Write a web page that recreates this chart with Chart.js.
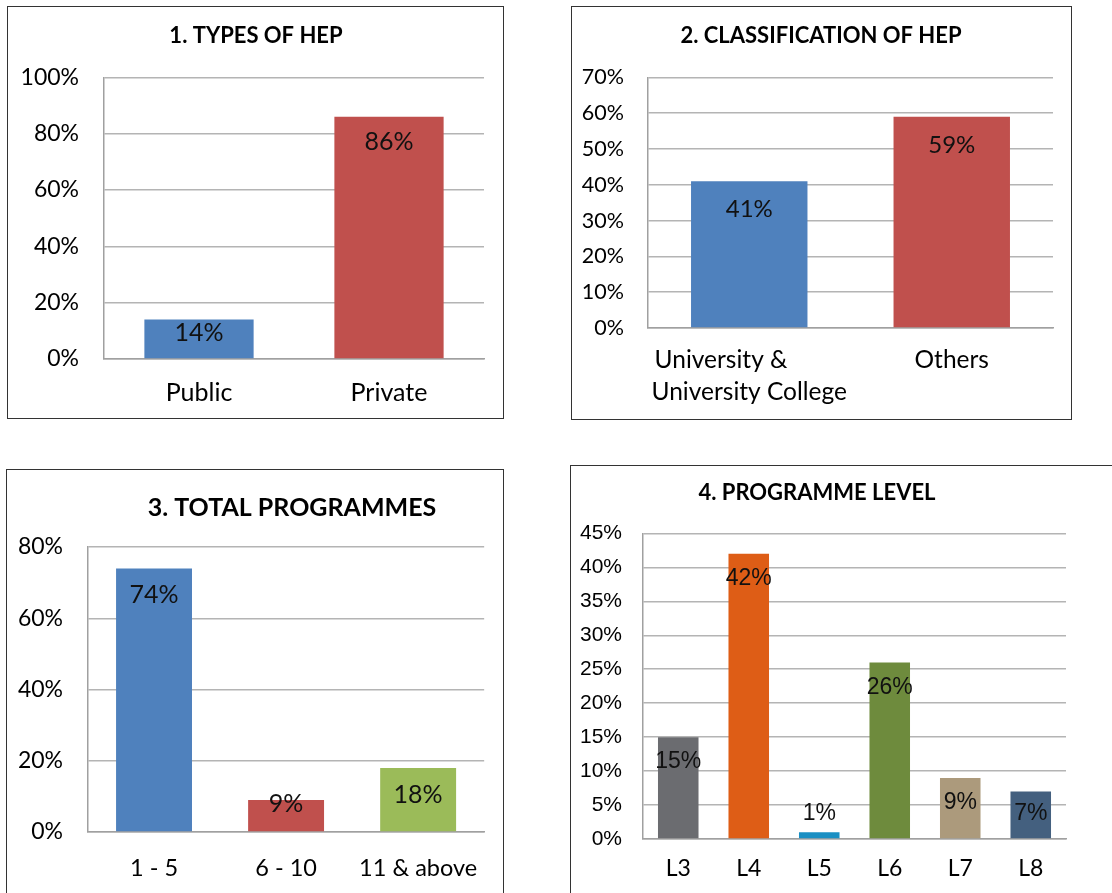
<!DOCTYPE html>
<html>
<head>
<meta charset="utf-8">
<script src="https://cdn.jsdelivr.net/npm/chart.js@4/dist/chart.umd.min.js"></script>
<style>
  body { margin: 0; background: #fff; width: 1112px; height: 893px; overflow: hidden; position: relative; }
  .panel { position: absolute; border: 1.5px solid #333; box-sizing: border-box; background: #fff; }
  .panel canvas { position: absolute; left: 0; top: 0; }
</style>
</head>
<body>
<div class="panel" style="left:7px;top:6px;width:497px;height:413px"><canvas id="c1" width="494" height="410"></canvas></div>
<div class="panel" style="left:571px;top:6px;width:501px;height:414px"><canvas id="c2" width="498" height="411"></canvas></div>
<div class="panel" style="left:6px;top:469px;width:498px;height:440px"><canvas id="c3" width="495" height="437"></canvas></div>
<div class="panel" style="left:570px;top:465px;width:560px;height:440px"><canvas id="c4" width="557" height="437"></canvas></div>

<script>
// chart 1 - types of HEP
var typeLabels = ['Public', 'Private'];
var typeValues = [14, 86];
var typeColors = ['#4F81BD', '#C0504D'];

// chart 2 - classification (trailing spaces keep the two lines left aligned)
var classLabels = [['University &         ', 'University College'], 'Others'];
var classValues = [41, 59];
var classColors = ['#4F81BD', '#C0504D'];

// chart 3 - total programmes
var progLabels = ['1 - 5', '6 - 10', '11 & above'];
var progValues = [74, 9, 18];
var progColors = ['#4F81BD', '#C0504D', '#9BBB59'];

// chart 4 - programme level
var levelLabels = ['L3', 'L4', 'L5', 'L6', 'L7', 'L8'];
var levelValues = [15, 42, 1, 26, 9, 7];
var levelColors = ['#6B6C70', '#DE5D16', '#1A8FC3', '#6E8B3D', '#AC9A7C', '#44607F'];

var gridColor = '#b4b4b4';
var axisColor = '#a0a0a0';

// value labels, excel "inside end" style
var barLabels = {
  id: 'barLabels',
  afterDatasetsDraw: function(chart, args, opts) {
    var ctx = chart.ctx;
    var meta = chart.getDatasetMeta(0);
    var data = chart.data.datasets[0].data;
    ctx.save();
    ctx.font = opts.font;
    ctx.fillStyle = '#111';
    ctx.textAlign = 'center';
    ctx.textBaseline = 'middle';
    meta.data.forEach(function(bar, i) {
      var y = Math.min(bar.y + opts.gap, bar.base - opts.gap);
      ctx.fillText(data[i] + '%', bar.x, y);
    });
    ctx.restore();
  }
};

// move title centre
var titleCentre = {
  id: 'titleCentre',
  afterLayout: function(chart, args, opts) {
    var tb = chart.titleBlock;
    if (!tb || opts.x == null) return;
    var half = (tb.right - tb.left) / 2;
    tb.left = opts.x - half;
    tb.right = opts.x + half;
  }
};

function makeChart(id, cfg) {
  var ctx = document.getElementById(id).getContext('2d');
  return new Chart(ctx, {
    type: 'bar',
    data: {
      labels: cfg.labels,
      datasets: [{
        data: cfg.values,
        backgroundColor: cfg.colors,
        borderWidth: 0,
        categoryPercentage: 1,
        barPercentage: 0.575
      }]
    },
    options: {
      responsive: false,
      animation: false,
      layout: { padding: { left: 0, right: cfg.padRight, top: 0, bottom: 0 } },
      plugins: {
        legend: { display: false },
        tooltip: { enabled: false },
        title: {
          display: true,
          text: cfg.title,
          color: '#000',
          font: { family: 'Lato', weight: 'bold', size: cfg.titleSize, lineHeight: 1.2 },
          padding: { top: cfg.titleTop, bottom: cfg.titleBottom }
        },
        titleCentre: { x: cfg.titleX },
        barLabels: { font: cfg.valueFont, gap: cfg.gap }
      },
      scales: {
        x: {
          grid: { display: false, drawTicks: false },
          border: { display: true, color: axisColor, width: 1.5 },
          ticks: {
            color: '#000',
            padding: cfg.xPad,
            maxRotation: 0,
            autoSkip: false,
            font: { family: cfg.xFamily || 'Lato', size: cfg.xSize, lineHeight: cfg.xLine || 1.2 }
          },
          afterFit: function(scale) { scale.height = cfg.xHeight; }
        },
        y: {
          min: 0,
          max: cfg.max,
          grid: { color: gridColor, lineWidth: 1.5, drawTicks: false },
          border: { display: true, color: axisColor, width: 1.5 },
          ticks: {
            stepSize: cfg.step,
            color: '#000',
            padding: cfg.yPad,
            font: { family: cfg.yFamily || 'Lato', size: cfg.ySize },
            callback: function(v) { return v + '%'; }
          },
          afterFit: function(scale) { scale.width = cfg.yWidth; }
        }
      }
    },
    plugins: [barLabels, titleCentre]
  });
}

makeChart('c1', {
  labels: typeLabels, values: typeValues, colors: typeColors,
  title: '1. TYPES OF HEP', titleSize: 22, titleTop: 16, titleBottom: 28, titleX: 248,
  max: 100, step: 20, yWidth: 96, yPad: 25, ySize: 23,
  xHeight: 58, xPad: 19, xSize: 25, padRight: 18,
  valueFont: '25px Lato', gap: 25
});

makeChart('c2', {
  labels: classLabels, values: classValues, colors: classColors,
  title: '2. CLASSIFICATION OF HEP', titleSize: 22, titleTop: 16, titleBottom: 28, titleX: 249,
  max: 70, step: 10, yWidth: 76, yPad: 24, ySize: 21.5,
  xHeight: 90, xPad: 16, xSize: 24.5, xLine: 1.3, padRight: 17,
  valueFont: '24px Lato', gap: 28
});

makeChart('c3', {
  labels: progLabels, values: progValues, colors: progColors,
  title: '3. TOTAL PROGRAMMES', titleSize: 25, titleTop: 23, titleBottom: 24, titleX: 285,
  max: 80, step: 20, yWidth: 81, yPad: 25, ySize: 23,
  xHeight: 75, xPad: 22, xSize: 23.5, padRight: 17,
  valueFont: '25px Lato', gap: 27
});

makeChart('c4', {
  labels: levelLabels, values: levelValues, colors: levelColors,
  title: '4. PROGRAMME LEVEL', titleSize: 22, titleTop: 14, titleBottom: 27, titleX: 246,
  max: 45, step: 5, yWidth: 72, yPad: 21, ySize: 21, yFamily: 'Liberation Sans',
  xHeight: 64, xPad: 16, xSize: 23, padRight: 62,
  valueFont: '23px "Liberation Sans"', gap: 25
});
</script>
</body>
</html>
